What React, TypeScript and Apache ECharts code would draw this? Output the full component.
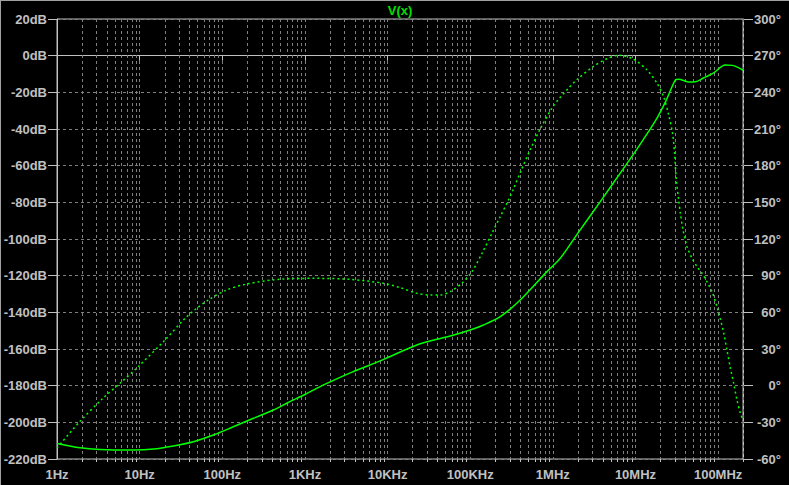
import React, { useEffect, useRef } from "react";
import * as echarts from "echarts";

// Frequency axis decades and labels
const decades = [1, 10, 100, 1e3, 1e4, 1e5, 1e6, 1e7, 1e8];
const freqLabels = ["1Hz", "10Hz", "100Hz", "1KHz", "10KHz", "100KHz", "1MHz", "10MHz", "100MHz"];
const freqMin = 1;
const freqMax = 2e8;

// Magnitude (solid), dB
const magFreq = [
  1, 1.9, 3.3, 8.4, 14.7, 25.6, 44.7, 78, 136, 238, 415, 626, 1000, 1530, 2390, 3720, 5820, 9100,
  22600, 39500, 57300, 100000, 145000, 231000, 403000, 849000, 1.23e6, 1.96e6, 3.75e6, 7.17e6,
  1.04e7, 1.74e7, 2.29e7, 3.03e7, 3.33e7, 4.35e7, 5.3e7, 6.62e7, 8.75e7, 1.22e8, 1.49e8, 1.76e8,
  2.0e8,
];
const magDb = [
  -211.5, -213.9, -214.8, -215.1, -214.6, -212.9, -210.6, -206.9, -202.4, -197.8, -193.3, -189.2,
  -184.8, -180.5, -176.4, -172.6, -169.1, -165.5, -157.8, -154.7, -152.9, -149.6, -146.9, -142.4,
  -133.3, -117.8, -110.5, -97.5, -79.6, -61.5, -51, -35.6, -25.5, -13.3, -12.8, -14.3, -14.2,
  -12.2, -9.5, -5.1, -5.3, -6.5, -8,
];

// Phase (dotted), degrees
const phaseFreq = [
  1, 1.85, 3.6, 6.1, 9.6, 20.3, 35.4, 49.1, 67.8, 113, 198, 545, 1390, 3520, 8850, 14200, 22600,
  32800, 43400, 57300, 79300, 105000, 139000, 183000, 231000, 291000, 334000, 422000, 532000,
  703000, 975000, 1.23e6, 1.55e6, 1.96e6, 3.08e6, 4.52e6, 6.24e6, 9.48e6, 1.38e7, 1.82e7, 2.19e7,
  2.52e7, 2.81e7, 2.97e7, 3.12e7, 3.33e7, 3.49e7, 3.76e7, 4.01e7, 4.2e7, 4.83e7, 5.55e7, 6.38e7,
  7.34e7, 8.44e7, 9.7e7, 1.06e8, 1.17e8, 1.28e8, 1.41e8, 1.54e8, 1.69e8, 1.86e8, 2.0e8,
];
const phaseDeg = [
  -51, -30, -10.3, 3.3, 15.5, 37.4, 55.1, 63.3, 70.1, 78.3, 83.2, 87.3, 87.8, 87, 83.8, 80.2, 75.6,
  74.2, 74.2, 77, 83.8, 93.3, 108.3, 124.6, 138.3, 152, 161, 177.5, 193, 210, 227, 236, 243.5,
  250.5, 261, 267.5, 270.3, 267, 258.3, 247.4, 236.4, 221.5, 206.5, 190, 168.3, 152, 141, 127.4,
  119, 113.7, 104.2, 97.4, 92, 85, 76.9, 64.6, 55, 42.8, 29, 14.2, 2, -11.7, -22.6, -28,
];

const traceName = "V(x)";

const App: React.FC = () => {
  const ref = useRef<HTMLDivElement>(null);

  useEffect(() => {
    document.body.style.margin = "0";
    document.body.style.background = "#000";
    if (!ref.current) return;
    const chart = echarts.init(ref.current, undefined, { renderer: "svg" });

    const gridTicks: number[][] = [];
    decades.forEach((d) => {
      for (let m = 2; m <= 9; m++) {
        const f = d * m;
        if (f <= freqMax) gridTicks.push([f, 0]);
      }
    });

    const labelFont = {
      color: "#c0c0c0",
      fontFamily: "Liberation Sans",
      fontWeight: "bold" as const,
      fontSize: 13,
    };

    chart.setOption({
      animation: false,
      backgroundColor: "#000000",
      grid: {
        left: 57,
        right: 46,
        top: 19,
        bottom: 26,
        show: true,
        borderColor: "#c0c0c0",
        borderWidth: 1,
        backgroundColor: "transparent",
      },
      graphic: [
        {
          type: "text",
          x: 400,
          y: 10,
          style: {
            text: traceName,
            fill: "#00e000",
            font: "bold 13px 'Liberation Sans'",
            textAlign: "center",
            textVerticalAlign: "middle",
          },
        },
        { type: "line", shape: { x1: 0, y1: 0.5, x2: 789, y2: 0.5 }, style: { stroke: "#a0a0a0", lineWidth: 1 } },
        { type: "line", shape: { x1: 0.5, y1: 0, x2: 0.5, y2: 485 }, style: { stroke: "#a0a0a0", lineWidth: 1 } },
      ],
      xAxis: {
        type: "log",
        logBase: 10,
        min: freqMin,
        max: freqMax,
        axisLine: { show: true, lineStyle: { color: "#c0c0c0", width: 1 } },
        axisTick: { show: true, length: 5, lineStyle: { color: "#c0c0c0" } },
        splitLine: { show: true, lineStyle: { color: "#808080", type: [3, 3], width: 1 } },
        minorTick: { show: false },
        axisLabel: {
          ...labelFont,
          margin: 9,
          showMaxLabel: false,
          formatter: (v: number) => {
            const i = Math.round(Math.log10(v));
            return freqLabels[i] ?? "";
          },
        },
      },
      yAxis: [
        {
          type: "value",
          min: -220,
          max: 20,
          interval: 20,
          axisLine: { show: true, lineStyle: { color: "#c0c0c0", width: 1 } },
          axisTick: { show: true, length: 9, lineStyle: { color: "#c0c0c0" } },
          splitLine: { show: true, lineStyle: { color: "#808080", type: [3, 3], width: 1 } },
          axisLabel: { ...labelFont, margin: 10, formatter: (v: number) => `${v}dB` },
        },
        {
          type: "value",
          position: "right",
          min: -60,
          max: 300,
          interval: 30,
          axisLine: { show: true, lineStyle: { color: "#c0c0c0", width: 1 } },
          axisTick: { show: true, length: 10, lineStyle: { color: "#c0c0c0" } },
          splitLine: { show: false },
          axisLabel: { ...labelFont, margin: 38, align: "right", formatter: (v: number) => `${v}°` },
        },
      ],
      series: [
        {
          type: "custom",
          silent: true,
          clip: false,
          z: 1,
          data: gridTicks,
          renderItem: (params: any, api: any) => {
            const cs = params.coordSys;
            const x = Math.round(api.coord([api.value(0), 0])[0]) + 0.5;
            return {
              type: "group",
              children: [
                {
                  type: "line",
                  shape: { x1: x, y1: cs.y, x2: x, y2: cs.y + cs.height },
                  style: { stroke: "#808080", lineWidth: 1, lineDash: [3, 3] },
                },
                {
                  type: "line",
                  shape: { x1: x, y1: cs.y + cs.height, x2: x, y2: cs.y + cs.height + 3 },
                  style: { stroke: "#c0c0c0", lineWidth: 1 },
                },
              ],
            };
          },
        },
        {
          type: "line",
          name: "mag",
          yAxisIndex: 0,
          z: 3,
          showSymbol: false,
          smooth: 0.3,
          data: magFreq.map((f, i) => [f, magDb[i]]),
          lineStyle: { color: "#00ff00", width: 1.5 },
          itemStyle: { color: "#00ff00" },
        },
        {
          type: "line",
          name: "phase",
          yAxisIndex: 1,
          z: 3,
          showSymbol: false,
          smooth: 0.3,
          data: phaseFreq.map((f, i) => [f, phaseDeg[i]]),
          lineStyle: { color: "#00ff00", width: 1.5, type: [2, 3] },
          itemStyle: { color: "#00ff00" },
        },
      ],
    });

    return () => chart.dispose();
  }, []);

  return (
    <div
      ref={ref}
      style={{ position: "fixed", left: 0, top: 0, width: 789, height: 485, background: "#000" }}
    />
  );
};

export default App;
